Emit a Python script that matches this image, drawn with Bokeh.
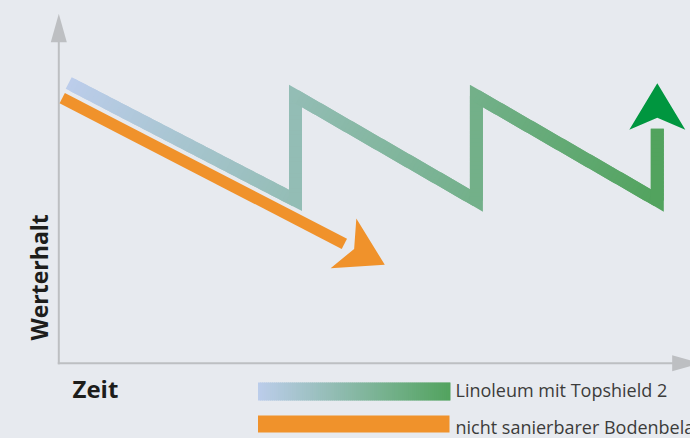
import math
from bokeh.plotting import figure
from bokeh.models import Range1d, Label
from bokeh.embed import file_html
from bokeh.resources import INLINE

# ---------------- data (schematic: value retention over time) ----------------
topshield_time = [0.55, 13.15, 13.15, 23.2, 23.2, 33.25, 33.25]
topshield_value = [80.2, 46.6, 76.5, 46.6, 76.5, 46.6, 80.1]
orange_time = [0.19, 18.11]
orange_value = [75.9, 28.2]
axis_time_end = 35.66
axis_value_end = 100.0

x_label = "Zeit"
y_label = "Werterhalt"
legend_labels = ["Linoleum mit Topshield 2", "nicht sanierbarer Bodenbelag"]

# ---------------- styles ----------------
BG = "#e7eaef"
AXIS = "#bdbfc2"
GRAD0 = (188, 205, 235)
GRAD1 = (82, 163, 94)
ORANGE = "#f0922b"
GREEN_HEAD = "#00963f"
LABEL_DARK = "#1d1d1b"
LEGEND_TEXT = "#3c3c3b"

W, H = 690, 438
MARGIN = 0
ORIGIN_IMG = (58.3, 362.8)
SX, SY = 18.0, 3.495
BASE_FIX = 0.42  # em offset between requested and rendered alphabetic baseline

x_start = (MARGIN - ORIGIN_IMG[0]) / SX
x_end = (MARGIN + W - ORIGIN_IMG[0]) / SX
y_end = (ORIGIN_IMG[1] - MARGIN) / SY
y_start = (ORIGIN_IMG[1] - (MARGIN + H)) / SY


def to_px(x, y):
    return ((x - x_start) * SX, (y_end - y) * SY)


def from_px(cx, cy):
    return (x_start + cx / SX, y_end - cy / SY)


def img(ix, iy):
    return from_px(ix - MARGIN, iy - MARGIN)


def lerp_color(t):
    t = min(1.0, max(0.0, t))
    c = [round(a + (b - a) * t) for a, b in zip(GRAD0, GRAD1)]
    return "#%02x%02x%02x" % tuple(c)


def head(tip, frm, L, Wd, N):
    tx, ty = to_px(*tip)
    fx, fy = to_px(*frm)
    d = math.hypot(tx - fx, ty - fy)
    ux, uy = (tx - fx) / d, (ty - fy) / d
    px_, py_ = -uy, ux
    bx, by = tx - L * ux, ty - L * uy
    pts = [(tx, ty), (bx + Wd * px_, by + Wd * py_), (bx + N * ux, by + N * uy),
           (bx - Wd * px_, by - Wd * py_)]
    data = [from_px(a, b) for a, b in pts]
    shaft_end = from_px(tx - (L - 1) * ux, ty - (L - 1) * uy)
    return [p[0] for p in data], [p[1] for p in data], shaft_end


def densify(pts, step=4.0):
    out = [pts[0]]
    for (ax, ay), (bx, by) in zip(pts[:-1], pts[1:]):
        n = max(1, math.ceil(math.hypot(bx - ax, by - ay) / step))
        for k in range(1, n + 1):
            out.append((ax + (bx - ax) * k / n, ay + (by - ay) * k / n))
    return out


p = figure(width=W, height=H, x_range=Range1d(x_start, x_end), y_range=Range1d(y_start, y_end),
           output_backend="svg", toolbar_location=None, min_border=0,
           x_axis_type=None, y_axis_type=None, background_fill_color=BG, border_fill_color=BG)
p.outline_line_color = None
p.xgrid.grid_line_color = None
p.ygrid.grid_line_color = None

# ---------------- axes with arrowheads ----------------
hx, hy, yend = head((0, axis_value_end), (0, 0), 28.5, 8, 0)
p.line([0, yend[0]], [0, yend[1]], line_color=AXIS, line_width=2, line_cap="square")
p.patch(hx, hy, fill_color=AXIS, line_color=None)
hx, hy, xend = head((axis_time_end, 0), (0, 0), 28.5, 8, 0)
p.line([0, xend[0]], [0, xend[1]], line_color=AXIS, line_width=2, line_cap="square")
p.patch(hx, hy, fill_color=AXIS, line_color=None)

# ---------------- orange series ----------------
tip = (orange_time[-1], orange_value[-1])
hx, hy, oend = head(tip, (orange_time[-2], orange_value[-2]), 46.5, 28, 12)
p.line(orange_time[:-1] + [oend[0]], orange_value[:-1] + [oend[1]],
       line_color=ORANGE, line_width=11.5, line_cap="butt")
p.patch(hx, hy, fill_color=ORANGE, line_color=None)

# ---------------- topshield series (gradient zigzag) ----------------
tip = (topshield_time[-1], topshield_value[-1])
ghx, ghy, gend = head(tip, (topshield_time[-2], topshield_value[-2]), 46.5, 28, 12)
path_data = list(zip(topshield_time[:-1], topshield_value[:-1])) + [gend]
path_px = [to_px(x, y) for x, y in path_data]
dense = densify(path_px, 4.0)
c0 = path_px[0][0]
c1 = path_px[-1][0]
xs_list, ys_list, cols = [], [], []
for i in range(len(dense) - 1):
    seg = dense[i:i + 3]
    dd = [from_px(a, b) for a, b in seg]
    xs_list.append([q[0] for q in dd])
    ys_list.append([q[1] for q in dd])
    mx = (dense[i][0] + dense[i + 1][0]) / 2
    cols.append(lerp_color((mx - c0) / (c1 - c0)))
p.multi_line(xs_list, ys_list, line_color=cols, line_width=13, line_join="miter", line_cap="butt")
p.patch(ghx, ghy, fill_color=GREEN_HEAD, line_color=None)

# ---------------- legend ----------------
lx0, lx1 = 257.5, 450.0
n = 96
lefts, rights, tops, bottoms, lcols = [], [], [], [], []
for k in range(n):
    a = lx0 + (lx1 - lx0) * k / n
    b = lx0 + (lx1 - lx0) * (k + 1) / n + (1.0 if k < n - 1 else 0)
    l, t = img(a, 382)
    r, bt = img(b, 400)
    lefts.append(l); rights.append(r); tops.append(t); bottoms.append(bt)
    lcols.append(lerp_color((k + 0.5) / n))
p.quad(left=lefts, right=rights, top=tops, bottom=bottoms, fill_color=lcols, line_color=None)
l, t = img(257.5, 415)
r, bt = img(449, 432)
p.quad(left=[l], right=[r], top=[t], bottom=[bt], fill_color=ORANGE, line_color=None)

LEG_FS = 18
for lab, (ix, iy) in zip(legend_labels, [(455, 397), (455, 434.5)]):
    x, y = img(ix, iy - BASE_FIX * LEG_FS)
    p.add_layout(Label(x=x, y=y, text=lab, text_font="Open Sans", text_font_size="%dpx" % LEG_FS,
                       text_color=LEGEND_TEXT, text_baseline="alphabetic", text_align="left"))

# ---------------- axis titles ----------------
TIT_FS = 24
x, y = img(72, 398 - BASE_FIX * TIT_FS)
p.add_layout(Label(x=x, y=y, text=x_label, text_font="Open Sans", text_font_style="bold",
                   text_font_size="%dpx" % TIT_FS, text_color=LABEL_DARK,
                   text_baseline="alphabetic", text_align="left"))
YT_FS = 23
x, y = img(48.3 - BASE_FIX * YT_FS, 340)
p.add_layout(Label(x=x, y=y, text=y_label, text_font="Open Sans", text_font_style="bold",
                   text_font_size="%dpx" % YT_FS, text_color=LABEL_DARK, angle=math.pi / 2,
                   text_baseline="alphabetic", text_align="left"))

html = file_html(p, INLINE, title="Werterhalt")
html = html.replace("</head>",
                    "<style>html,body{margin:0;padding:0;overflow:hidden;background:%s;}</style></head>" % BG, 1)
with open("out.html", "w") as f:
    f.write(html)
